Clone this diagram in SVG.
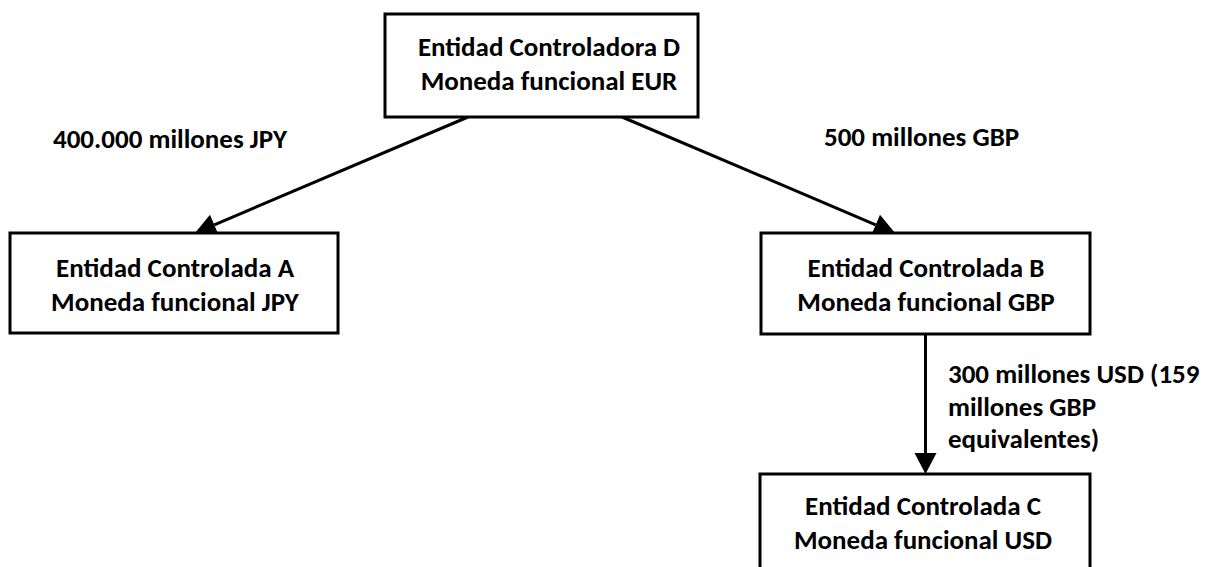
<svg xmlns="http://www.w3.org/2000/svg" width="1206" height="567" viewBox="0 0 1206 567">
<style>
.box{fill:#fff;stroke:#000;stroke-width:3}
.t{font-family:Carlito,Lato,"Open Sans",sans-serif;font-weight:bold;font-size:27px;fill:#000}
.c{text-anchor:middle}
.conn{stroke:#000;stroke-width:3;fill:none}
</style>
<defs>
<marker id="ah" markerUnits="userSpaceOnUse" markerWidth="22" markerHeight="22" refX="0" refY="11" orient="auto" overflow="visible">
<path d="M0,0 L21,11 L0,22 z" fill="#000"/>
</marker>
</defs>
<g id="connectors">
<line class="conn" x1="468" y1="117" x2="214.3" y2="224.8" marker-end="url(#ah)"/>
<line class="conn" x1="622" y1="117" x2="875.7" y2="224.8" marker-end="url(#ah)"/>
<line class="conn" x1="925.5" y1="334" x2="925.5" y2="453" marker-end="url(#ah)"/>
<text class="t" x="53" y="148">400.000 millones JPY</text>
<text class="t" x="824" y="146">500 millones GBP</text>
<text class="t" x="948" y="383">300 millones USD (159</text>
<text class="t" x="948" y="416">millones GBP</text>
<text class="t" x="948" y="448">equivalentes)</text>
</g>
<g id="nodeD">
<rect class="box" x="385" y="14" width="313" height="103"/>
<text class="t c" x="549" y="56">Entidad Controladora D</text>
<text class="t c" x="549" y="90">Moneda funcional EUR</text>
</g>
<g id="nodeA">
<rect class="box" x="10" y="233" width="328" height="100"/>
<text class="t c" x="175" y="277">Entidad Controlada A</text>
<text class="t c" x="175" y="311">Moneda funcional JPY</text>
</g>
<g id="nodeB">
<rect class="box" x="761" y="233" width="329" height="101"/>
<text class="t c" x="926" y="277">Entidad Controlada B</text>
<text class="t c" x="926" y="311">Moneda funcional GBP</text>
</g>
<g id="nodeC">
<rect class="box" x="760" y="474" width="330" height="110"/>
<text class="t c" x="923" y="515">Entidad Controlada C</text>
<text class="t c" x="923" y="549">Moneda funcional USD</text>
</g>
</svg>
